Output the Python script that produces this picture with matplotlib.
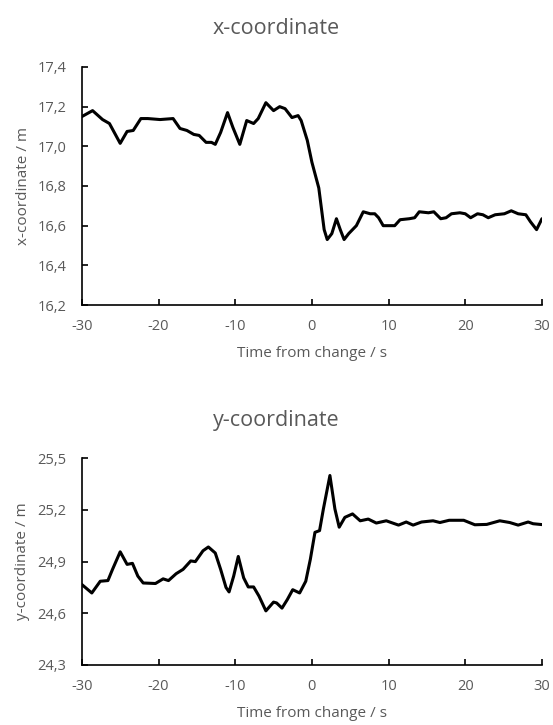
import matplotlib
matplotlib.use("Agg")
import matplotlib.pyplot as plt
from matplotlib.ticker import FuncFormatter, MultipleLocator

plt.rcParams['font.family'] = ['Open Sans', 'DejaVu Sans']

# x-coordinate series (time from change in s, position in m)
t_x = [-30, -28.6, -27.3, -26.4, -25.0, -24.1, -23.3, -22.3, -21.4, -19.8, -18.1,
       -17.2, -16.3, -15.4, -14.7, -13.8, -13.1, -12.6, -11.9, -11.0, -10.3, -9.4,
       -8.5, -7.6, -7.0, -6.0, -5.0, -4.2, -3.5, -2.6, -1.8, -1.4, -0.6, 0.0, 0.9,
       1.6, 2.0, 2.6, 3.2, 3.7, 4.2, 4.8, 5.8, 6.7, 7.6, 8.2, 8.7, 9.3, 10.4, 10.8,
       11.5, 12.7, 13.4, 14.0, 15.2, 15.9, 16.8, 17.5, 18.2, 19.3, 20.0, 20.7, 21.6,
       22.3, 23.0, 23.9, 25.1, 26.0, 26.9, 27.9, 28.5, 29.3, 30.0]
x_pos = [17.15, 17.18, 17.135, 17.115, 17.015, 17.075, 17.08, 17.14, 17.14, 17.135, 17.14,
         17.09, 17.08, 17.06, 17.055, 17.02, 17.02, 17.01, 17.07, 17.17, 17.095, 17.01,
         17.13, 17.115, 17.14, 17.22, 17.18, 17.20, 17.19, 17.145, 17.155, 17.13, 17.03, 16.92, 16.79,
         16.58, 16.53, 16.56, 16.635, 16.58, 16.53, 16.56, 16.60, 16.67, 16.66, 16.66, 16.64, 16.60, 16.60, 16.60,
         16.63, 16.635, 16.64, 16.67, 16.665, 16.67, 16.635, 16.64, 16.66, 16.665, 16.66, 16.64, 16.66,
         16.655, 16.64, 16.655, 16.66, 16.675, 16.66, 16.655, 16.62, 16.58, 16.635]

# y-coordinate series
t_y = [-30, -28.7, -27.6, -26.6, -26.0, -25.0, -24.1, -23.4, -22.7, -22.0, -20.4,
       -19.4, -18.7, -17.7, -16.8, -15.8, -15.2, -14.2, -13.5, -12.6, -11.9, -11.2,
       -10.8, -10.2, -9.6, -8.9, -8.3, -7.6, -6.9, -6.0, -5.0, -4.6, -3.9, -3.2, -2.5,
       -1.6, -0.8, -0.2, 0.4, 1.0, 1.5, 2.35, 3.0, 3.56, 4.3, 5.3, 6.3, 7.35, 8.4,
       9.7, 11.3, 12.3, 13.2, 14.3, 15.8, 16.7, 17.9, 19.8, 21.25, 22.8, 24.5, 25.8,
       26.9, 28.2, 28.85, 30.0]
y_pos = [24.767, 24.718, 24.786, 24.79, 24.855, 24.957, 24.884, 24.89, 24.816, 24.776, 24.773,
         24.80, 24.79, 24.83, 24.855, 24.904, 24.90, 24.963, 24.985, 24.95, 24.855, 24.75,
         24.724, 24.816, 24.93, 24.806, 24.753, 24.753, 24.70, 24.614, 24.665, 24.66, 24.63, 24.68, 24.737,
         24.718, 24.786, 24.914, 25.07, 25.08, 25.206, 25.40, 25.206, 25.10, 25.157, 25.177, 25.137, 25.147, 25.124,
         25.137, 25.112, 25.13, 25.112, 25.13, 25.137, 25.127, 25.14, 25.14, 25.114, 25.116, 25.137, 25.127,
         25.112, 25.13, 25.12, 25.115]

grey = '#595959'
comma = FuncFormatter(lambda v, p: f"{v:.1f}".replace('.', ','))
intfmt = FuncFormatter(lambda v, p: f"{v:.0f}")

fig = plt.figure(figsize=(5.53, 7.25), dpi=100)
ax1 = fig.add_axes([0.148, 0.5793, 0.832, 0.3283])
ax2 = fig.add_axes([0.148, 0.0828, 0.832, 0.2851])


def style(ax, ylim, ystep, ylabel):
    for s in ['top', 'right']:
        ax.spines[s].set_visible(False)
    for s in ['left', 'bottom']:
        ax.spines[s].set_color('black')
        ax.spines[s].set_linewidth(1.2)
    ax.set_xlim(-30, 30)
    ax.set_ylim(*ylim)
    ax.xaxis.set_major_locator(MultipleLocator(10))
    ax.yaxis.set_major_locator(MultipleLocator(ystep))
    ax.yaxis.set_major_formatter(comma)
    ax.xaxis.set_major_formatter(intfmt)
    ax.tick_params(direction='in', length=4, width=1.2, color='black',
                   labelcolor=grey, labelsize=10.5)
    ax.tick_params(axis='x', pad=10)
    ax.tick_params(axis='y', pad=11)
    ax.set_xlabel('Time from change / s', color=grey, fontsize=11, labelpad=9)
    ax.set_ylabel(ylabel, color=grey, fontsize=11, labelpad=5)


ax1.plot(t_x, x_pos, color='black', lw=2.2, solid_joinstyle='round', solid_capstyle='round')
style(ax1, (16.2, 17.4), 0.2, 'x-coordinate / m')

ax2.plot(t_y, y_pos, color='black', lw=2.2, solid_joinstyle='round', solid_capstyle='round')
style(ax2, (24.3, 25.5), 0.3, 'y-coordinate / m')

fig.text(0.5, 1 - 28 / 725, 'x-coordinate', ha='center', va='center', color=grey, fontsize=15.5)
fig.text(0.5, 1 - 420 / 725, 'y-coordinate', ha='center', va='center', color=grey, fontsize=15.5)

fig.savefig('out.png', dpi=100)
